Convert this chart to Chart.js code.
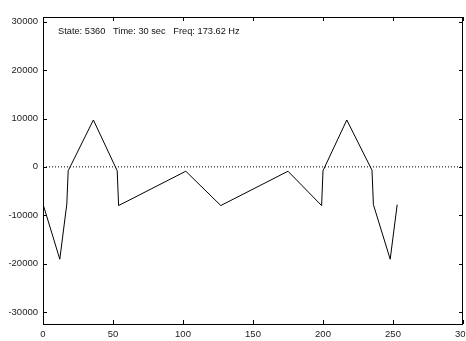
<!DOCTYPE html>
<html lang="en">
<head>
    <meta charset="UTF-8">
    <title>Waveform</title>
    <script src="https://cdn.jsdelivr.net/npm/chart.js"></script>
    <style>
        body {
            margin: 0;
            background: #fff;
        }
        #wave {
            display: block;
        }
    </style>
</head>
<body>
    <canvas id="wave" width="466" height="341"></canvas>

    <script>
        // sample index / amplitude of the captured waveform
        const sampleX = [0, 12, 17, 18, 36, 53, 54, 102, 127, 175, 199, 200, 217, 235, 236, 248, 253];
        const sampleY = [-7700, -19100, -7700, -800, 9700, -800, -8000, -900, -8000, -900, -8000, -800, 9700, -700, -7800, -19100, -7800];

        // dotted zero reference across the full x range
        const zeroX = [0, 300];
        const zeroY = [0, 0];

        const xTicks = [0, 50, 100, 150, 200, 250, 300];
        const yTicks = [-30000, -20000, -10000, 0, 10000, 20000, 30000];

        const infoText = 'State: 5360   Time: 30 sec   Freq: 173.62 Hz';

        const labelFont = { family: '"Liberation Sans", Arial, sans-serif', size: 9.5 };

        // gnuplot style: closed frame with ticks pointing inward on all four sides
        const framePlugin = {
            id: 'frame',
            afterDraw(chart) {
                const { ctx, chartArea: a, scales } = chart;
                const len = 4;
                ctx.save();
                ctx.strokeStyle = '#000';
                ctx.lineWidth = 1;
                ctx.beginPath();
                scales.x.ticks.forEach(t => {
                    const px = Math.round(scales.x.getPixelForValue(t.value)) + 0.5;
                    ctx.moveTo(px, a.bottom);
                    ctx.lineTo(px, a.bottom - len);
                    ctx.moveTo(px, a.top);
                    ctx.lineTo(px, a.top + len);
                });
                scales.y.ticks.forEach(t => {
                    const py = Math.round(scales.y.getPixelForValue(t.value)) + 0.5;
                    ctx.moveTo(a.left, py);
                    ctx.lineTo(a.left + len, py);
                    ctx.moveTo(a.right, py);
                    ctx.lineTo(a.right - len, py);
                });
                ctx.stroke();
                ctx.strokeRect(a.left + 0.5, a.top + 0.5, a.right - a.left - 1, a.bottom - a.top);

                ctx.fillStyle = '#111';
                ctx.font = '9.25px "Liberation Sans", Arial, sans-serif';
                ctx.textAlign = 'left';
                ctx.textBaseline = 'alphabetic';
                ctx.fillText(infoText, a.left + 15, a.top + 17);
                ctx.restore();
            }
        };

        const ctx = document.getElementById('wave').getContext('2d');
        const waveChart = new Chart(ctx, {
            type: 'line',
            data: {
                datasets: [{
                    data: zeroX.map((x, i) => ({ x: x, y: zeroY[i] })),
                    borderColor: '#000',
                    borderWidth: 1,
                    borderDash: [1, 2],
                    pointRadius: 0
                }, {
                    data: sampleX.map((x, i) => ({ x: x, y: sampleY[i] })),
                    borderColor: '#000',
                    borderWidth: 1,
                    pointRadius: 0,
                    tension: 0
                }]
            },
            options: {
                responsive: false,
                animation: false,
                devicePixelRatio: 1,
                layout: {
                    padding: { top: 17, right: 3, left: 0, bottom: 0 }
                },
                plugins: {
                    legend: { display: false },
                    tooltip: { enabled: false }
                },
                scales: {
                    x: {
                        type: 'linear',
                        min: 0,
                        max: 300,
                        grid: { display: false, drawTicks: false },
                        border: { display: false },
                        ticks: {
                            color: '#222',
                            font: labelFont,
                            padding: 5,
                            maxRotation: 0,
                            autoSkip: false,
                            callback: v => String(v)
                        },
                        afterBuildTicks(scale) {
                            scale.ticks = xTicks.map(v => ({ value: v }));
                        },
                        afterFit(scale) {
                            scale.height = 17;
                            scale.paddingLeft = 0;
                            scale.paddingRight = 0;
                        }
                    },
                    y: {
                        type: 'linear',
                        min: -32500,
                        max: 31000,
                        grid: { display: false, drawTicks: false },
                        border: { display: false },
                        ticks: {
                            color: '#222',
                            font: labelFont,
                            padding: 5,
                            autoSkip: false,
                            callback: v => String(v)
                        },
                        afterBuildTicks(scale) {
                            scale.ticks = yTicks.map(v => ({ value: v }));
                        },
                        afterFit(scale) {
                            scale.width = 43;
                            scale.paddingTop = 0;
                            scale.paddingBottom = 0;
                        }
                    }
                }
            },
            plugins: [framePlugin]
        });
    </script>
</body>
</html>
